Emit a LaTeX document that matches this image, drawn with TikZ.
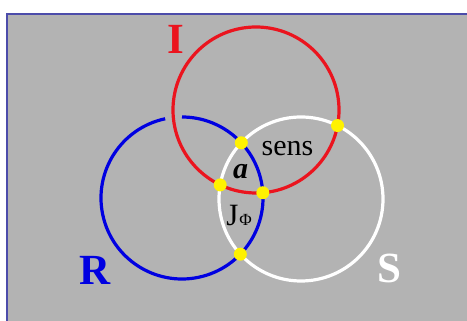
\documentclass[tikz,border=0pt]{standalone}
\usepackage{fontspec}
\setmainfont{Liberation Serif}
\usetikzlibrary{intersections}
\definecolor{bggray}{RGB}{179,179,179}
\definecolor{framec}{RGB}{76,76,170}
\definecolor{redc}{RGB}{235,20,30}
\definecolor{bluec}{RGB}{0,0,225}
\definecolor{yel}{RGB}{255,242,0}
\begin{document}
\begin{tikzpicture}[x=1pt,y=1pt,
  ring/.style={line width=3.2pt},
  dot/.style={circle,fill=yel,inner sep=0pt,minimum size=13pt},
  biglabel/.style={font=\fontsize{43}{43}\selectfont\bfseries,anchor=base},
  txt/.style={font=\fontsize{30}{30}\selectfont,anchor=base}]
\useasboundingbox (0,0) rectangle (467,321);
\fill[white] (0,0) rectangle (467,321);
\fill[bggray] (7,0) rectangle (467,307);
\draw[framec,line width=2pt] (7,0) -- (7,307) -- (467,307);
% circles
\draw[ring,white,name path=pw] (301,122) circle[radius=82];
\draw[ring,bluec,name path=pb] (182,123) ++(102:81) arc[start angle=102,end angle=450,radius=81];
\draw[ring,redc,name path=pr] (256,211) circle[radius=83];
% intersections
\path[name intersections={of=pr and pw, name=rw}];
\path[name intersections={of=pb and pw, name=bw}];
\path[name intersections={of=pb and pr, name=br}];
\node[dot] (d1) at (rw-1) {};
\node[dot] (d2) at (rw-2) {};
\node[dot] (d3) at (bw-1) {};
\node[dot] (d4) at (bw-2) {};
\node[dot] (d5) at (br-1) {};
% labels
\node[biglabel,text=redc] (lI) at (176,267) {I};
\node[biglabel,text=bluec] (lR) at (95,36) {R};
\node[biglabel,text=white] (lS) at (389,38) {S};
\node[txt] (lsens) at (287.5,165) {sens};
\node[txt,font=\fontsize{30}{30}\selectfont\bfseries\itshape] (la) at (240.5,142) {a};
\node[txt,font=\fontsize{31}{31}\selectfont] (lJ) at (239,95) {J\kern1pt{\fontsize{17}{17}\selectfont Φ}};
\end{tikzpicture}
\end{document}
